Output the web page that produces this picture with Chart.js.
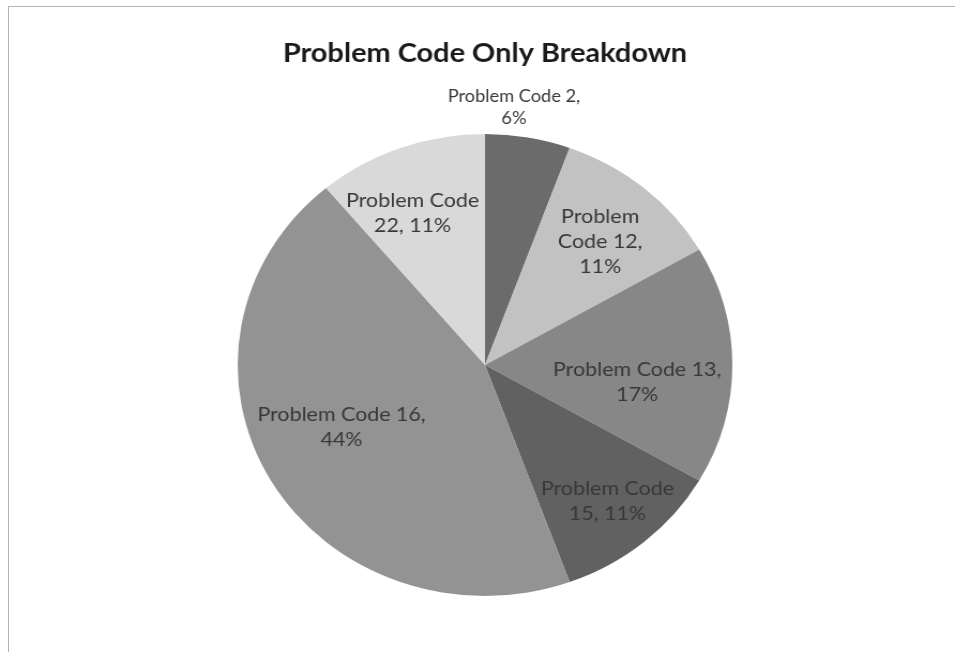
<!DOCTYPE html>
<html>
<head>
<meta charset="utf-8">
<title>Problem Code Only Breakdown</title>
<script src="https://cdn.jsdelivr.net/npm/chart.js@4.4.1/dist/chart.umd.min.js"></script>
<style>
  html, body { margin: 0; padding: 0; background: #fff; }
  #wrap { position: relative; width: 955px; height: 652px; overflow: hidden; }
  #pie { position: absolute; left: 0; top: 0; }
  #frame { position: absolute; left: 8px; top: 6px; width: 1000px; height: 700px;
           border-top: 1px solid #b4b4b4; border-left: 1px solid #b4b4b4; pointer-events: none; }
</style>
</head>
<body>
<div id="wrap">
  <!-- drawn narrower, then stretched wide by the inline style -->
  <canvas id="pie" width="892" height="652" style="width:955px;height:652px"></canvas>
  <div id="frame"></div>
</div>
<script>
// problem codes and their counts
var categories = ['Problem Code 2', 'Problem Code 12', 'Problem Code 13', 'Problem Code 15', 'Problem Code 16', 'Problem Code 22'];
var counts = [1, 2, 3, 2, 8, 2];
var colors = ['#6b6b6b', '#c2c2c2', '#878787', '#616161', '#939393', '#d9d9d9'];

// where each label sits: fraction of radius, angle nudge (deg), wrap width, font size
var labelFrac = [1.12, 0.71, 0.62, 0.77, 0.64, 0.72];
var labelShift = [-4, 1, 7, 0, 5, -4];
var labelWrap = [130, 80, 160, 130, 160, 130];
var labelSize = [17, 20, 20, 20, 20, 20];

var total = counts.reduce(function (a, b) { return a + b; }, 0);

function wrapText(ctx, text, maxW) {
     var words = text.split(' ');
     var lines = [];
     var cur = '';
     words.forEach(function (w) {
          var test = cur ? cur + ' ' + w : w;
          if (cur && ctx.measureText(test).width > maxW) {
               lines.push(cur);
               cur = w;
          } else {
               cur = test;
          }
     });
     if (cur) lines.push(cur);
     return lines;
}

// slice labels "name, pct%"
var sliceLabels = {
     id: 'sliceLabels',
     afterDatasetsDraw: function (chart) {
          var ctx = chart.ctx;
          var meta = chart.getDatasetMeta(0);
          ctx.save();
          ctx.fillStyle = '#383838';
          ctx.textAlign = 'center';
          ctx.textBaseline = 'middle';
          meta.data.forEach(function (arc, i) {
               var p = arc.getProps(['x', 'y', 'startAngle', 'endAngle', 'outerRadius'], true);
               var mid = (p.startAngle + p.endAngle) / 2 + labelShift[i] * Math.PI / 180;
               var r = p.outerRadius * labelFrac[i];
               var cx = p.x + Math.cos(mid) * r;
               var cy = p.y + Math.sin(mid) * r;
               var pct = Math.round(counts[i] / total * 100);
               ctx.font = labelSize[i] + 'px Lato';
               var lines = wrapText(ctx, categories[i] + ', ' + pct + '%', labelWrap[i]);
               var lh = Math.round(labelSize[i] * 1.27);
               var y0 = cy - (lines.length - 1) * lh / 2;
               lines.forEach(function (l, k) {
                    ctx.fillText(l, cx, y0 + k * lh);
               });
          });
          ctx.restore();
     }
};

var ctx = document.getElementById('pie').getContext('2d');
var pie = new Chart(ctx, {
     type: 'pie',
     data: {
          labels: categories,
          datasets: [{
               data: counts,
               backgroundColor: colors,
               borderWidth: 0,
               hoverOffset: 0
          }]
     },
     options: {
          responsive: false,
          animation: false,
          layout: { padding: { top: 10, left: 14, right: 0, bottom: 56 } },
          plugins: {
               legend: { display: false },
               tooltip: { enabled: false },
               title: {
                    display: true,
                    text: 'Problem Code Only Breakdown',
                    color: '#1a1a1a',
                    font: { family: 'Lato', size: 27, weight: 'bold', lineHeight: 1.2 },
                    padding: { top: 27, bottom: 64.6 }
               }
          }
     },
     plugins: [sliceLabels]
});
</script>
</body>
</html>
